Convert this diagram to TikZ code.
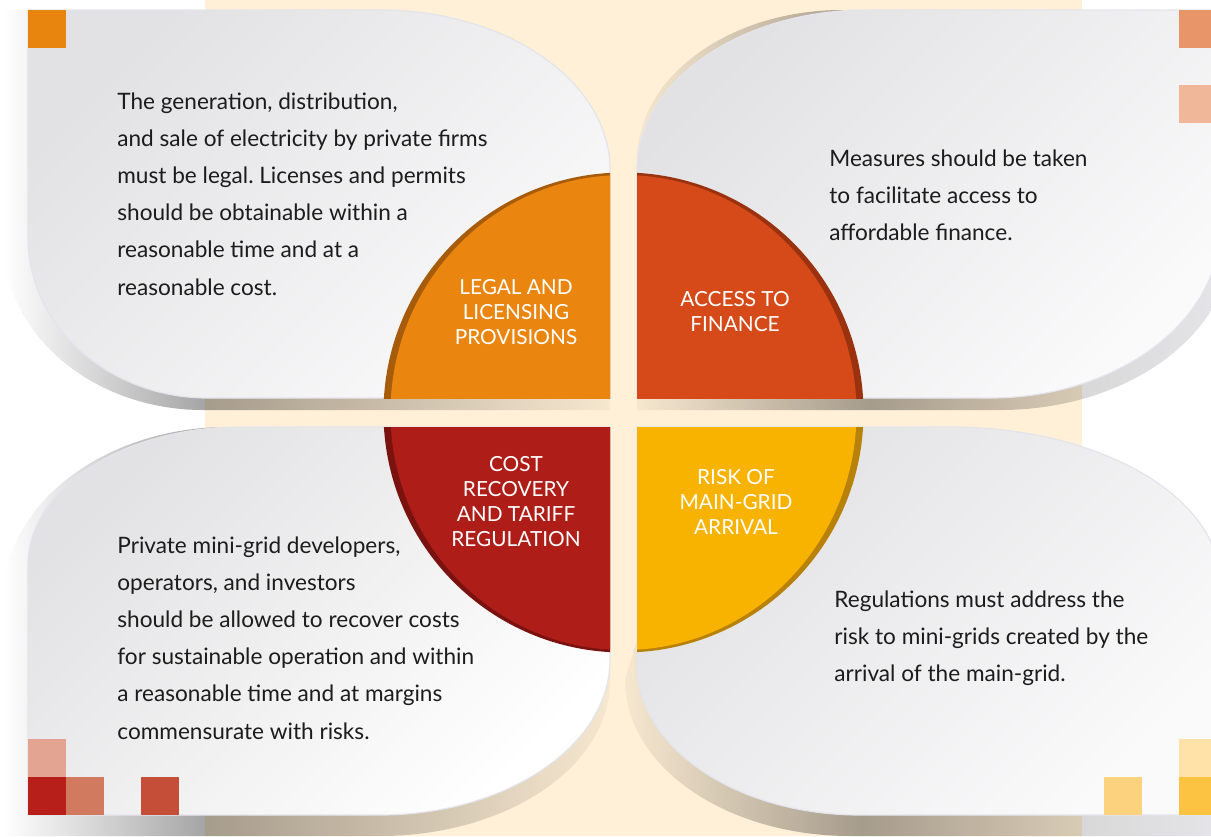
\documentclass[tikz,border=0pt]{standalone}
\usepackage{fontspec}
\setmainfont{Lato}
\frenchspacing
\definecolor{cream}{HTML}{FFF0D7}
\definecolor{shdark}{HTML}{A6A6A6}
\definecolor{shmid}{HTML}{D8D8D8}
\definecolor{shlight}{HTML}{F6F6F6}
\definecolor{shedge}{HTML}{E6E6EA}
\definecolor{edgec}{HTML}{E4E4EC}
\definecolor{pdark}{HTML}{E2E1E3}
\definecolor{plight}{HTML}{FAFAFB}
\definecolor{txt}{HTML}{1C1C1C}
\definecolor{qTL}{HTML}{EA8510}
\definecolor{rTL}{HTML}{A65C0A}
\definecolor{qTR}{HTML}{D54A18}
\definecolor{rTR}{HTML}{9A3210}
\definecolor{qBL}{HTML}{AE1D18}
\definecolor{rBL}{HTML}{7A1210}
\definecolor{qBR}{HTML}{F8B200}
\definecolor{rBR}{HTML}{B8820A}
\definecolor{sqA}{HTML}{E8850F}
\definecolor{sqB}{HTML}{E8956A}
\definecolor{sqC}{HTML}{F0B898}
\definecolor{sqD}{HTML}{E3A592}
\definecolor{sqE}{HTML}{B71F1A}
\definecolor{sqF}{HTML}{D27A60}
\definecolor{sqG}{HTML}{C44E38}
\definecolor{sqH}{HTML}{FDD27E}
\definecolor{sqI}{HTML}{FFE2A8}
\definecolor{sqJ}{HTML}{FBC341}
\pgfdeclarehorizontalshading{shL}{100bp}{color(0bp)=(white); color(25bp)=(white); color(41.5bp)=(shdark); color(75bp)=(shlight); color(100bp)=(shlight)}
\pgfdeclarehorizontalshading{shR}{100bp}{color(0bp)=(shlight); color(25bp)=(shlight); color(44.5bp)=(shdark); color(62.5bp)=(shmid); color(75bp)=(shedge); color(100bp)=(shedge)}
\tikzset{
  panel/.style={draw=edgec, line width=0.6pt},
  body/.style={anchor=north west, inner sep=0pt, align=left, text=txt, font=\fontsize{11.3}{18.6}\selectfont},
  qlabel/.style={inner sep=0pt, align=center, text=white, font=\fontsize{10.4}{12.5}\selectfont},
}
\begin{document}
\begin{tikzpicture}[x=0.5pt,y=-0.5pt]
\useasboundingbox (0,0) rectangle (1211,836);
\fill[white] (0,0) rectangle (1211,836);
\fill[cream] (205,0) rectangle (1082,836);
% shadows
\begin{scope}[blend mode=multiply]
\shade[shading=shL] (3,10) -- (380,10) .. controls (507,10) and (610,81.6) .. (610,170) -- (610,410) -- (203,410) .. controls (92.5,410) and (3,333.9) .. (3,240) -- cycle;
\shade[shading=shR] (637,410) -- (637,160) .. controls (637,77.2) and (728.8,10) .. (842,10) -- (1232,10) -- (1232,240) .. controls (1232,333.9) and (1128.1,410) .. (1000,410) -- cycle;
\shade[shading=shL] (3,836) -- (3,600) .. controls (3,504.5) and (103.7,427) .. (228,427) -- (610,427) -- (610,681) .. controls (610,766.6) and (507,836) .. (380,836) -- cycle;
\shade[shading=shR] (637,427) -- (950,427) .. controls (1099.1,427) and (1220,496.4) .. (1220,582) -- (1232,600) -- (1232,836) -- (850,836) .. controls (725.7,836) and (625,766.2) .. (625,680) -- (637,640) -- cycle;
\end{scope}
% panels
\shadedraw[panel, top color=pdark, bottom color=plight, shading angle=45] (28,10) -- (380,10) .. controls (507,10) and (610,81.6) .. (610,170) -- (610,398) -- (208,398) .. controls (108.6,398) and (28,326.4) .. (28,238) -- cycle;
\shadedraw[panel, top color=pdark, bottom color=plight, shading angle=45] (637,398) -- (637,170) .. controls (637,81.6) and (740,10) .. (867,10) -- (1220,10) -- (1220,228) .. controls (1220,321.9) and (1117,398) .. (990,398) -- cycle;
\shadedraw[panel, top color=pdark, bottom color=white, shading angle=45] (28,815) -- (28,565) .. controls (28,488.8) and (122.9,427) .. (240,427) -- (610,427) -- (610,660) .. controls (610,745.6) and (507,815) .. (380,815) -- cycle;
\shadedraw[panel, top color=pdark, bottom color=plight, shading angle=45] (637,427) -- (950,427) .. controls (1099.1,427) and (1220,496.4) .. (1220,582) -- (1220,815) -- (860,815) .. controls (736.8,815) and (637,747.8) .. (637,665) -- cycle;
% quadrants
\begin{scope}
\clip (370,150) rectangle (610,398);
\fill[rTL] (623.5,412.5) circle[radius=240];
\fill[qTL] (623.5,412.5) ellipse[x radius=233, y radius=237.5];
\end{scope}
\begin{scope}
\clip (637,150) rectangle (880,398);
\fill[rTR] (623.5,412.5) circle[radius=240];
\fill[qTR] (623.5,412.5) ellipse[x radius=233, y radius=237.5];
\end{scope}
\begin{scope}
\clip (370,427) rectangle (610,670);
\fill[rBL] (623.5,412.5) circle[radius=240];
\fill[qBL] (623.5,412.5) ellipse[x radius=233, y radius=237.5];
\end{scope}
\begin{scope}
\clip (637,427) rectangle (880,670);
\fill[rBR] (623.5,412.5) circle[radius=240];
\fill[qBR] (623.5,412.5) ellipse[x radius=233, y radius=237.5];
\end{scope}
% labels
\node[qlabel] (lTL) at (516,312.5) {LEGAL AND\\LICENSING\\PROVISIONS};
\node[qlabel] (lTR) at (735,311.5) {ACCESS TO\\FINANCE};
\node[qlabel] (lBL) at (516,502) {COST\\RECOVERY\\AND TARIFF\\REGULATION};
\node[qlabel] (lBR) at (736,502) {RISK OF\\MAIN-GRID\\ARRIVAL};
% body texts
\node[body] (tTL) at (117,92) {The generation, distribution,\\and sale of electricity by private firms\\must be legal. Licenses and permits\\should be obtainable within a\\reasonable time and at a\\reasonable cost.};
\node[body] (tTR) at (829,149) {Measures should be taken\\to facilitate access to\\affordable finance.};
\node[body] (tBL) at (117,536) {Private mini-grid developers,\\operators, and investors\\should be allowed to recover costs\\for sustainable operation and within\\a reasonable time and at margins\\commensurate with risks.};
\node[body] (tBR) at (834,590) {Regulations must address the\\risk to mini-grids created by the\\arrival of the main-grid.};
% squares
\fill[sqA] (28,10) rectangle (66,48);
\fill[sqB] (1179,10) rectangle (1217,48);
\fill[sqC] (1179,85) rectangle (1217,123);
\fill[sqD] (28,739) rectangle (66,777);
\fill[sqE] (28,777) rectangle (66,815);
\fill[sqF] (66,777) rectangle (104,815);
\fill[sqG] (141,777) rectangle (179,815);
\fill[sqH] (1104,777) rectangle (1142,815);
\fill[sqI] (1179,739) rectangle (1217,777);
\fill[sqJ] (1179,777) rectangle (1217,815);
\end{tikzpicture}
\end{document}
